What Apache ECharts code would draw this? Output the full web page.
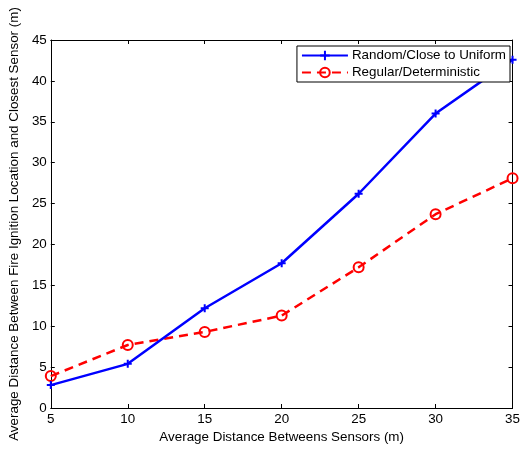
<!DOCTYPE html>
<html><head><meta charset="utf-8">
<script src="https://cdn.jsdelivr.net/npm/echarts@6/dist/echarts.min.js"></script>
<style>html,body{margin:0;padding:0;background:#fff}#c{width:523px;height:449px}</style>
</head><body><div id="c"></div>
<script>
const xValues = [5, 10, 15, 20, 25, 30, 35];
const randomSeries = [2.8, 5.4, 12.2, 17.7, 26.2, 36.0, 42.6];
const regularSeries = [3.9, 7.7, 9.3, 11.3, 17.2, 23.7, 28.1];
const seriesNames = ['Random/Close to Uniform', 'Regular/Deterministic'];
const xTitle = 'Average Distance Betweens Sensors (m)';
const yTitle = 'Average Distance Between Fire Ignition Location and Closest Sensor (m)';

const font = 'Liberation Sans, Arial, Helvetica, sans-serif';
const fs = 13.4;
const chart = echarts.init(document.getElementById('c'));
const pair = a => xValues.map((x, i) => [x, a[i]]);
function axis(extra) {
  return Object.assign({
    axisLine: {show: true, onZero: false, lineStyle: {color: '#000', width: 1}},
    axisTick: {show: true, inside: true, length: 4, lineStyle: {color: '#000', width: 1}},
    splitLine: {show: false},
    axisLabel: {show: false}
  }, extra);
}
chart.setOption({
  animation: false,
  backgroundColor: '#fff',
  grid: {left: 49, right: 7, top: 40, bottom: 41, containLabel: false},
  xAxis: [
    axis({type: 'value', min: 5, max: 35, interval: 5, position: 'bottom',
      name: xTitle, nameLocation: 'middle', nameGap: 22,
      nameTextStyle: {color: '#000', fontFamily: font, fontSize: fs},
      axisLabel: {show: true, color: '#000', fontFamily: font, fontSize: fs, margin: 5}}),
    axis({type: 'value', min: 5, max: 35, interval: 5, position: 'top'})
  ],
  yAxis: [
    axis({type: 'value', min: 0, max: 45, interval: 5, position: 'left',
      name: yTitle, nameLocation: 'middle', nameGap: 26,
      nameTextStyle: {color: '#000', fontFamily: font, fontSize: fs},
      axisLabel: {show: true, color: '#000', fontFamily: font, fontSize: fs, margin: 4}}),
    axis({type: 'value', min: 0, max: 45, interval: 5, position: 'right'})
  ],
  legend: {
    right: 13, top: 46,
    orient: 'vertical',
    backgroundColor: '#fff',
    borderColor: '#000', borderWidth: 1,
    padding: [3, 4, 3, 4],
    itemGap: 4,
    itemWidth: 46, itemHeight: 12,
    textStyle: {color: '#000', fontFamily: font, fontSize: fs, padding: [0, 0, 0, -1]},
    data: seriesNames
  },
  series: [
    {
      name: seriesNames[0], type: 'line', data: pair(randomSeries),
      xAxisIndex: 0, yAxisIndex: 0,
      symbol: 'path://M0,5 L10,5 M5,0 L5,10', symbolSize: 8,
      showSymbol: true,
      lineStyle: {color: '#0000ff', width: 2.5},
      itemStyle: {color: '#0000ff', borderColor: '#0000ff', borderWidth: 2},
      z: 3
    },
    {
      name: seriesNames[1], type: 'line', data: pair(regularSeries),
      xAxisIndex: 0, yAxisIndex: 0,
      symbol: 'circle', symbolSize: 10,
      lineStyle: {color: '#ff0000', width: 2.5, type: [9, 6]},
      itemStyle: {color: 'rgba(255,255,255,0)', borderColor: '#ff0000', borderWidth: 2},
      z: 2
    }
  ]
});
</script></body></html>
